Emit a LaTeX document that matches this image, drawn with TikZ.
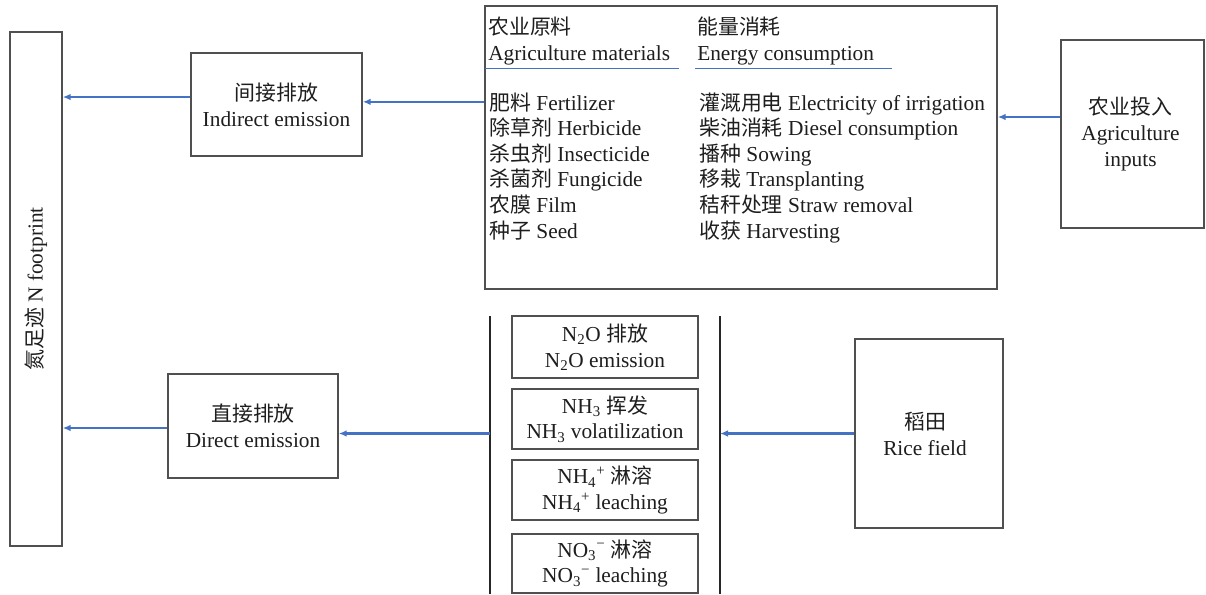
\documentclass[tikz,border=0pt]{standalone}
\usepackage{fontspec}
\setmainfont{Liberation Serif}
\newfontfamily\cjk{Noto Sans CJK SC}[Scale=0.98]
\newcommand\zh[1]{{\cjk #1}}
\usetikzlibrary{arrows.meta}
\definecolor{arrblue}{RGB}{68,114,196}
\definecolor{boxgray}{RGB}{80,80,80}
\definecolor{txt}{RGB}{30,30,30}
\begin{document}
\begin{tikzpicture}[x=0.75pt,y=-0.75pt,
  every node/.style={font=\fontsize{16}{19.4}\selectfont, text=txt, inner sep=0pt},
  box/.style={draw=boxgray, line width=1.1pt, rectangle, fill=white},
  lbl/.style={align=center},
  li/.style={anchor=base west},
  arr/.style={draw=arrblue, line width=1.6pt, -{Latex[length=6pt,width=5pt]}},
  uline/.style={draw=arrblue, line width=1.4pt},
  vline/.style={draw=black!85, line width=1.6pt}]
\useasboundingbox (0,0) rectangle (1206,594);
% boxes
\node[box, minimum width=39pt, minimum height=385.5pt] (foot) at (36,289) {};
\node[rotate=90] (footlbl) at (foot.center) {\zh{氮足迹} N footprint};
\node[box, minimum width=128.25pt, minimum height=77.25pt] (ind) at (276.5,104.5) {};
\node[lbl] (indlbl) at (ind.center) {\zh{间接排放}\\Indirect emission};
\node[box, minimum width=384pt, minimum height=212.25pt] (mat) at (741,147.5) {};
\node[box, minimum width=107.25pt, minimum height=141pt] (inp) at (1132.5,134) {};
\node[lbl] (inplbl) at ([xshift=-1.5pt]inp.center) {\zh{农业投入}\\Agriculture\\inputs};
\node[box, minimum width=127.5pt, minimum height=78pt] (dir) at (253,426) {};
\node[lbl] (dirlbl) at (dir.center) {\zh{直接排放}\\Direct emission};
\node[box, minimum width=111pt, minimum height=141.75pt] (rice) at (929,433.5) {};
\node[lbl] (ricelbl) at ([xshift=-3pt]rice.center) {\zh{稻田}\\Rice field};
% small boxes
\node[box, minimum width=139.5pt, minimum height=46.5pt] (s1) at (605,347) {};
\node[lbl] (s1l) at (s1.center) {N\textsubscript{2}O \zh{排放}\\N\textsubscript{2}O emission};
\node[box, minimum width=139.5pt, minimum height=45pt] (s2) at (605,419) {};
\node[lbl] (s2l) at (s2.center) {NH\textsubscript{3} \zh{挥发}\\NH\textsubscript{3} volatilization};
\node[box, minimum width=139.5pt, minimum height=45pt] (s3) at (605,490) {};
\node[lbl] (s3l) at (s3.center) {NH\textsubscript{4}\textsuperscript{+} \zh{淋溶}\\NH\textsubscript{4}\textsuperscript{+} leaching};
\node[box, minimum width=139.5pt, minimum height=44pt] (s4) at (605,563.5) {};
\node[lbl] (s4l) at (s4.center) {NO\textsubscript{3}\textsuperscript{−} \zh{淋溶}\\NO\textsubscript{3}\textsuperscript{−} leaching};
% vertical lines
\coordinate (llt) at (490,316);
\coordinate (llb) at (490,594);
\coordinate (rlt) at (720,316);
\coordinate (rlb) at (720,594);
\draw[vline] (llt) -- (llb);
\draw[vline] (rlt) -- (rlb);
% headers in material box
\node[li] (h1) at (488,34) {\zh{农业原料}};
\node[li] (h2) at (488,60) {Agriculture materials};
\node[li] (h3) at (697,34) {\zh{能量消耗}};
\node[li] (h4) at (697,60) {Energy consumption};
\coordinate (u1a) at (485,68.5);
\coordinate (u1b) at (679,68.5);
\coordinate (u2a) at (695,68.5);
\coordinate (u2b) at (892,68.5);
\draw[uline] (u1a) -- (u1b);
\draw[uline] (u2a) -- (u2b);
% lists
\node[li] (l1) at (489,110) {\zh{肥料} Fertilizer};
\node[li] (l2) at (489,135.6) {\zh{除草剂} Herbicide};
\node[li] (l3) at (489,161.2) {\zh{杀虫剂} Insecticide};
\node[li] (l4) at (489,186.8) {\zh{杀菌剂} Fungicide};
\node[li] (l5) at (489,212.4) {\zh{农膜} Film};
\node[li] (l6) at (489,238) {\zh{种子} Seed};
\node[li] (r1) at (699,110) {\zh{灌溉用电} Electricity of irrigation};
\node[li] (r2) at (699,135.6) {\zh{柴油消耗} Diesel consumption};
\node[li] (r3) at (699,161.2) {\zh{播种} Sowing};
\node[li] (r4) at (699,186.8) {\zh{移栽} Transplanting};
\node[li] (r5) at (699,212.4) {\zh{秸秆处理} Straw removal};
\node[li] (r6) at (699,238) {\zh{收获} Harvesting};
% arrows
\draw[arr] ([yshift=5.6pt]ind.west) coordinate (t1) -- (t1 -| foot.east);
\draw[arr] ([yshift=2pt]mat.west |- ind.east) coordinate (t2) -- (t2 -| ind.east);
\draw[arr] ([yshift=12.75pt]inp.west) coordinate (t3) -- (t3 -| mat.east);
\draw[arr] (rice.west) -- (rice.west -| rlt);
\draw[arr] (llt |- rice.west) -- (dir.east |- rice.west);
\draw[arr] ([yshift=-1.5pt]dir.west) coordinate (t4) -- (t4 -| foot.east);
\end{tikzpicture}
\end{document}
